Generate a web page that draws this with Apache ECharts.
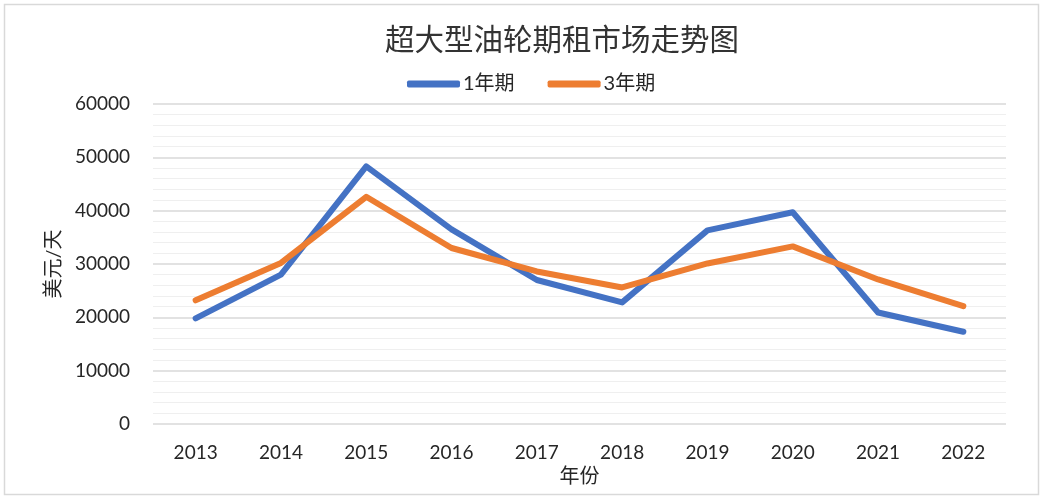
<!DOCTYPE html>
<html>
<head>
<meta charset="utf-8">
<script src="https://cdn.jsdelivr.net/npm/echarts@6/dist/echarts.min.js"></script>
<style>
html,body{margin:0;padding:0;background:#fff;}
#main{width:1044px;height:500px;}
</style>
</head>
<body>
<div id="main"></div>
<script>
var categories = ['2013','2014','2015','2016','2017','2018','2019','2020','2021','2022'];
var oneYear = [19800, 28000, 48300, 36500, 27000, 22800, 36300, 39700, 20900, 17300];
var threeYear = [23200, 30200, 42600, 33000, 28600, 25600, 30100, 33300, 27100, 22100];
var seriesNames = ['1年期', '3年期'];

var FONT = 'Lato, "Noto Sans CJK SC", sans-serif';
var chart = echarts.init(document.getElementById('main'), null, {renderer: 'canvas'});
chart.setOption({
  animation: false,
  textStyle: {fontFamily: FONT},
  title: {
    text: '超大型油轮期租市场走势图',
    left: 557, top: 19, textAlign: 'center',
    textStyle: {fontSize: 29.5, fontWeight: 'normal', color: '#333', fontFamily: '"Noto Sans CJK SC", sans-serif'}
  },
  legend: {
    data: seriesNames,
    left: 402, top: 69,
    icon: 'roundRect',
    itemWidth: 53, itemHeight: 7, itemGap: 33,
    textStyle: {fontSize: 20, color: '#262626', fontFamily: FONT, padding: [0,0,0,-2]}
  },
  graphic: [{
    type: 'rect', shape: {x: 4.5, y: 4.5, width: 1034, height: 490},
    style: {fill: 'none', stroke: '#d9d9d9', lineWidth: 1.5}, silent: true
  }],
  grid: {left: 153, right: 38, top: 104, bottom: 76},
  xAxis: {
    type: 'category', data: categories, boundaryGap: true,
    name: '年份', nameLocation: 'middle', nameGap: 43,
    nameTextStyle: {fontSize: 20, color: '#262626', fontFamily: FONT},
    axisLine: {show: false}, axisTick: {show: false},
    axisLabel: {fontSize: 19, color: '#262626', margin: 19}
  },
  yAxis: {
    type: 'value', min: 0, max: 60000, interval: 10000,
    name: '美元/天', nameLocation: 'middle', nameGap: 87,
    nameTextStyle: {fontSize: 20, color: '#262626', fontFamily: FONT},
    axisLabel: {fontSize: 19, color: '#262626', margin: 23, formatter: function (v) { return String(v); }},
    axisLine: {show: false}, axisTick: {show: false},
    splitLine: {lineStyle: {color: '#d9d9d9', width: 1.5}},
    minorTick: {show: false, splitNumber: 5},
    minorSplitLine: {show: true, lineStyle: {color: '#efefef', width: 1.2}}
  },
  series: [{
    name: seriesNames[0], type: 'line', data: oneYear,
    symbol: 'none', lineStyle: {width: 6, color: '#4472C4', cap: 'round', join: 'round'},
    itemStyle: {color: '#4472C4'}
  }, {
    name: seriesNames[1], type: 'line', data: threeYear,
    symbol: 'none', lineStyle: {width: 6, color: '#ED7D31', cap: 'round', join: 'round'},
    itemStyle: {color: '#ED7D31'}
  }]
});
</script>
</body>
</html>
